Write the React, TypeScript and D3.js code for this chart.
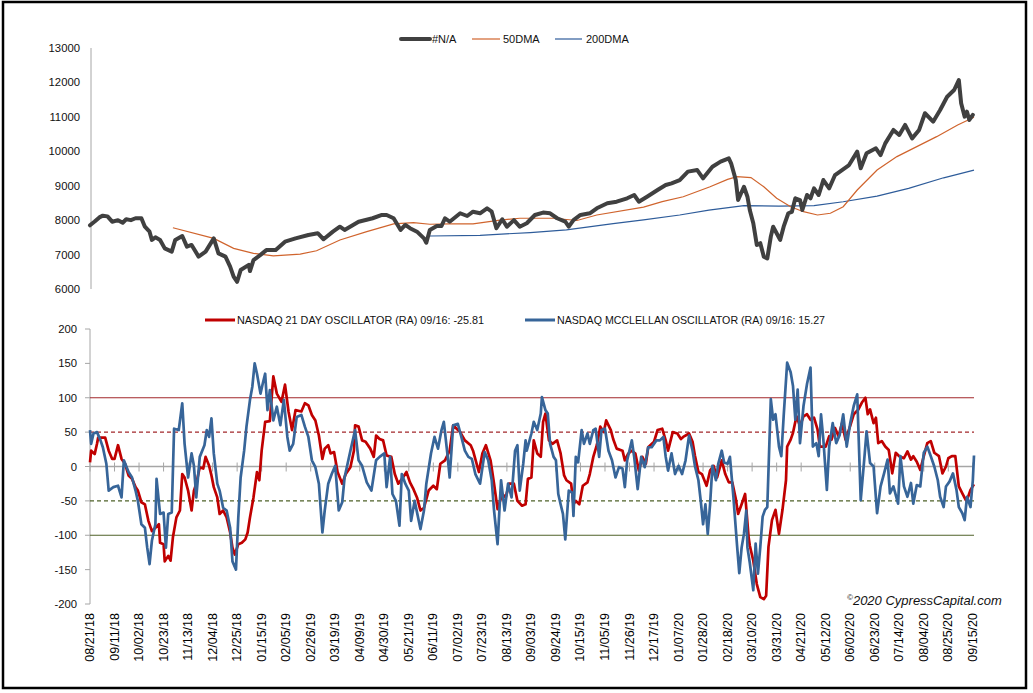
import React from "react";
import * as d3 from "d3";

const startDate = new Date(2018, 7, 21);
const endDate = new Date(2020, 8, 16);

const xTickLabels = [
  "08/21/18", "09/11/18", "10/02/18", "10/23/18", "11/13/18", "12/04/18", "12/25/18",
  "01/15/19", "02/05/19", "02/26/19", "03/19/19", "04/09/19", "04/30/19", "05/21/19",
  "06/11/19", "07/02/19", "07/23/19", "08/13/19", "09/03/19", "09/24/19", "10/15/19",
  "11/05/19", "11/26/19", "12/17/19", "01/07/20", "01/28/20", "02/18/20", "03/10/20",
  "03/31/20", "04/21/20", "05/12/20", "06/02/20", "06/23/20", "07/14/20", "08/04/20",
  "08/25/20", "09/15/20",
];
const priceTicks = [6000, 7000, 8000, 9000, 10000, 11000, 12000, 13000];
const oscTicks = [-200, -150, -100, -50, 0, 50, 100, 150, 200];
const oscLevels = [100, 50, -50, -100];

// day offsets from 08/21/18
const priceDays = [0, 4, 8, 11, 15, 19, 24, 28, 31, 35, 39, 44, 47, 51, 53, 56, 60, 64, 70, 73, 79, 83, 87, 93, 99, 106, 110, 116, 120, 123, 126, 129, 136, 137, 140, 146, 151, 159, 167, 176, 187, 195, 200, 208, 214, 218, 230, 242, 250, 254, 260, 266, 270, 274, 280, 286, 288, 291, 297, 301, 304, 308, 317, 323, 328, 334, 340, 344, 348, 353, 357, 363, 368, 374, 381, 388, 394, 400, 407, 410, 414, 420, 428, 434, 443, 451, 460, 466, 470, 477, 486, 493, 498, 505, 512, 520, 525, 533, 540, 547, 549, 553, 555, 560, 563, 565, 568, 571, 574, 577, 580, 583, 585, 588, 591, 594, 598, 601, 604, 608, 610, 614, 617, 620, 624, 628, 633, 638, 644, 650, 657, 660, 665, 673, 677, 681, 688, 693, 698, 704, 710, 715, 722, 728, 734, 740, 744, 746, 749, 751, 753, 756];
const priceValues = [7850, 7960, 8080, 8130, 8110, 7955, 8000, 7925, 8025, 8000, 8055, 8055, 7810, 7665, 7425, 7500, 7425, 7180, 7085, 7425, 7540, 7230, 7280, 6940, 7085, 7470, 7035, 6940, 6650, 6360, 6210, 6550, 6700, 6520, 6840, 6990, 7130, 7130, 7375, 7470, 7570, 7620, 7445, 7665, 7810, 7715, 7955, 8055, 8150, 8150, 8055, 7715, 7860, 7765, 7665, 7470, 7345, 7715, 7830, 7830, 8055, 7955, 8200, 8120, 8245, 8200, 8345, 8245, 7765, 8025, 7810, 8000, 7810, 7910, 8150, 8220, 8200, 8055, 7955, 7810, 8000, 8150, 8200, 8345, 8490, 8535, 8635, 8730, 8535, 8680, 8875, 9020, 9070, 9165, 9410, 9455, 9215, 9550, 9700, 9795, 9650, 9165, 8585, 8970, 8680, 8295, 7910, 7280, 7330, 6940, 6890, 7520, 7810, 7620, 7425, 7810, 8200, 8240, 8635, 8585, 8295, 8730, 8635, 8925, 8730, 9165, 8925, 9310, 9455, 9600, 9990, 9505, 9940, 10085, 9890, 10230, 10620, 10475, 10765, 10375, 10620, 11105, 10860, 11200, 11585, 11780, 12070, 11395, 11005, 11150, 10910, 11055];

const dma50Days = [71, 106, 123, 140, 157, 180, 194, 214, 237, 260, 277, 291, 308, 328, 351, 368, 397, 417, 434, 474, 490, 508, 531, 546, 554, 566, 577, 588, 600, 611, 623, 634, 645, 657, 674, 691, 708, 725, 743, 757];
const dma50Values = [7780, 7470, 7180, 7035, 6960, 7015, 7110, 7425, 7665, 7890, 7925, 7880, 7890, 7890, 8000, 8055, 8055, 7990, 8150, 8380, 8540, 8680, 8970, 9185, 9265, 9235, 8970, 8635, 8390, 8245, 8150, 8200, 8390, 8875, 9455, 9845, 10135, 10425, 10765, 10990];

const dma200Days = [291, 334, 377, 408, 448, 474, 505, 530, 560, 590, 620, 645, 674, 701, 731, 757];
const dma200Values = [7540, 7560, 7640, 7720, 7900, 8010, 8150, 8290, 8420, 8410, 8420, 8535, 8700, 8925, 9230, 9455];

const osc21Days = [0, 1, 4, 6, 7, 13, 16, 19, 21, 24, 27, 30, 33, 36, 39, 41, 44, 47, 50, 53, 56, 59, 60, 63, 64, 67, 69, 71, 74, 77, 79, 81, 84, 87, 89, 91, 94, 97, 99, 102, 104, 106, 109, 111, 114, 117, 120, 122, 124, 127, 130, 133, 135, 137, 140, 143, 145, 147, 150, 154, 157, 160, 164, 167, 170, 173, 176, 181, 184, 187, 190, 193, 196, 199, 201, 204, 206, 209, 212, 216, 219, 223, 226, 227, 230, 233, 236, 240, 243, 245, 248, 251, 254, 258, 261, 264, 268, 271, 274, 277, 280, 283, 286, 290, 294, 297, 300, 304, 308, 311, 314, 317, 321, 326, 328, 333, 336, 339, 343, 346, 349, 353, 356, 359, 363, 366, 370, 373, 375, 378, 380, 383, 386, 388, 390, 393, 396, 400, 403, 406, 408, 412, 414, 416, 419, 422, 426, 428, 431, 434, 437, 440, 442, 446, 448, 451, 456, 458, 461, 464, 467, 470, 473, 476, 478, 483, 486, 490, 493, 495, 499, 503, 506, 508, 513, 516, 518, 521, 524, 528, 531, 534, 537, 541, 544, 547, 550, 553, 555, 558, 561, 564, 565, 568, 571, 574, 577, 579, 581, 584, 587, 590, 593, 596, 597, 600, 602, 605, 608, 611, 614, 617, 620, 623, 625, 630, 633, 635, 638, 641, 644, 647, 651, 654, 658, 661, 664, 666, 668, 671, 673, 675, 678, 681, 684, 687, 690, 693, 697, 700, 703, 705, 708, 711, 714, 717, 720, 723, 727, 730, 733, 735, 738, 741, 744, 747, 750, 752, 754, 757];
const osc21Values = [6, 23, 18, 33, 42, 42, 23, 11, 11, 31, 11, 4, -13, -18, -30, -35, -52, -55, -79, -94, -89, -84, -111, -113, -138, -130, -137, -103, -74, -64, -11, -16, -35, -64, -35, -25, -1, -3, 14, 1, -13, -30, -45, -69, -64, -74, -96, -118, -128, -113, -111, -106, -96, -74, -45, -8, -20, 23, 65, 66, 131, 106, 94, 119, 80, 53, 82, 80, 92, 89, 75, 67, 45, 11, 26, 31, 19, 21, -8, -25, -11, -1, 23, 60, 58, 38, 36, 26, 14, 45, 40, 38, 16, 14, -11, -25, -16, -8, -23, -33, -45, -64, -60, -35, -28, -33, 4, 9, 23, 60, 55, 50, 38, 31, 23, -8, 19, 31, 9, -25, -62, -40, -45, -25, -25, -50, -57, -55, -18, -16, 38, 19, 14, 65, 77, 38, 33, 38, 19, -13, -20, -25, -55, -50, -55, -28, -23, -11, 14, 31, 58, 50, 67, 53, 40, 26, 23, 9, 19, 23, 19, -6, 14, 4, 28, 36, 53, 55, 38, 23, 50, 48, 40, 43, 48, 36, 16, -8, -11, -28, -6, 1, -16, 9, -11, -23, -23, -47, -69, -55, -40, -103, -115, -137, -171, -190, -193, -188, -117, -78, -63, -98, -63, -20, 29, 39, 49, 73, 59, 73, 76, 68, 71, 54, 29, 29, 44, 39, 56, 44, 63, 39, 59, 76, 83, 93, 100, 76, 83, 63, 71, 34, 37, 29, 24, -10, 20, 15, 12, 22, 10, 15, 7, -5, 15, 34, 37, 20, 15, -10, 0, 12, 15, 15, -29, -39, -49, -44, -34, -26];

const mcclDays = [0, 1, 3, 6, 9, 11, 14, 16, 20, 24, 27, 29, 33, 36, 39, 41, 44, 47, 49, 51, 53, 56, 57, 60, 63, 65, 67, 70, 72, 76, 79, 81, 84, 87, 89, 91, 94, 98, 100, 102, 104, 106, 109, 111, 114, 117, 120, 122, 125, 127, 129, 132, 134, 137, 139, 141, 143, 146, 148, 150, 152, 154, 157, 160, 163, 166, 169, 171, 174, 177, 181, 184, 187, 190, 193, 196, 199, 201, 204, 207, 210, 213, 216, 218, 223, 227, 230, 233, 237, 241, 245, 248, 252, 254, 257, 259, 262, 265, 267, 270, 273, 275, 278, 283, 286, 288, 292, 295, 298, 301, 303, 306, 308, 311, 315, 318, 321, 324, 327, 330, 334, 338, 341, 344, 346, 349, 352, 355, 358, 361, 364, 366, 368, 371, 373, 374, 378, 380, 383, 386, 387, 390, 392, 394, 397, 399, 401, 403, 405, 407, 410, 413, 414, 416, 418, 421, 423, 426, 428, 431, 433, 436, 438, 441, 444, 447, 450, 453, 456, 458, 460, 464, 466, 469, 472, 475, 478, 481, 485, 488, 491, 493, 495, 498, 501, 504, 507, 510, 513, 516, 518, 521, 523, 525, 527, 529, 531, 533, 536, 538, 541, 543, 546, 548, 551, 554, 556, 558, 560, 562, 563, 565, 568, 570, 572, 574, 576, 578, 580, 583, 585, 587, 590, 592, 594, 597, 600, 602, 604, 606, 608, 611, 614, 617, 619, 622, 624, 626, 628, 631, 633, 636, 639, 642, 645, 648, 651, 654, 657, 660, 663, 665, 668, 671, 674, 677, 680, 683, 685, 688, 692, 694, 697, 700, 703, 705, 708, 711, 714, 717, 720, 723, 726, 728, 731, 733, 736, 739, 742, 744, 747, 749, 751, 754, 756, 757];
const mcclValues = [53, 33, 48, 50, 38, 28, 4, -35, -30, -28, -45, 9, -8, -16, -35, -50, -84, -89, -118, -142, -108, -84, -18, -69, -67, -118, -69, -67, 55, 53, 92, 33, -16, 19, 1, -45, 14, 31, 53, 43, 70, 19, -25, -35, -60, -64, -89, -138, -150, -74, -16, 23, 58, 97, 116, 150, 135, 106, 121, 135, 82, 111, 67, 87, 60, 97, 43, 23, 33, 72, 75, 58, 43, 9, -1, -25, -96, -64, -25, -11, 1, -64, -52, -16, 23, 53, 9, 1, -23, -35, 9, 14, 19, -30, 14, -40, -50, -86, -11, -25, -35, -79, -50, -91, -64, -25, 19, 43, 26, 53, 65, 19, -16, 60, 62, 43, 23, 14, 11, -11, -25, 21, 9, -20, -64, -113, -20, -64, -25, -45, 23, 31, -35, 4, 38, 23, 48, 65, 53, 77, 101, 82, 77, 33, 14, 9, -40, -55, -69, -106, -35, -38, -72, 14, 6, 53, 33, 48, 33, 53, 55, 14, 53, 55, 23, 9, -16, -1, -3, -30, 9, 38, 14, -33, 14, -1, 28, 28, 38, 38, 43, 14, -6, 19, -11, 1, -11, 9, 45, 23, 1, -20, -50, -84, -55, -98, -55, 1, -20, 4, 23, 6, 4, 14, -45, -113, -155, -118, -98, -64, -118, -140, -180, -112, -156, -117, -73, -63, -59, 98, 68, 76, 29, 15, 73, 151, 137, 117, 68, 112, 34, 88, 120, 144, 29, 34, 15, 76, 39, -34, 29, 63, 34, 46, 76, 29, 63, 88, 105, -49, 10, 51, 5, 0, -68, -29, -10, 10, -39, -29, -54, 15, -29, -44, -24, -54, -27, -29, 20, 29, 15, 0, -20, -44, -59, -29, -22, -10, -34, -59, -68, -78, -44, -59, -20, 16];

const FONT = "'Liberation Sans', Arial, sans-serif";

export default function App() {
  const x = d3.scaleTime().domain([startDate, endDate]).range([90, 974]);
  const yP = d3.scaleLinear().domain([6000, 13000]).range([289, 48]);
  const yO = d3.scaleLinear().domain([-200, 200]).range([604, 329]);
  const pts = (days: number[], vals: number[]) =>
    days.map((d, i) => ({ t: d3.timeDay.offset(startDate, d), v: vals[i] }));
  const lineP = d3.line<any>().x((d) => x(d.t)).y((d) => yP(d.v));
  const lineO = d3.line<any>().x((d) => x(d.t)).y((d) => yO(d.v));
  const parse = d3.timeParse("%m/%d/%y");
  const tickDates = xTickLabels.map((s) => parse(s) as Date);

  const levelStyle = (l: number) => ({
    stroke: l > 0 ? "#A2272B" : "#4F6228",
    dash: Math.abs(l) === 50 ? "4,3" : undefined,
  });

  return (
    <svg
      width={1033}
      height={693}
      style={{ position: "absolute", left: 0, top: 0, display: "block", background: "#fff" }}
      fontFamily={FONT}
    >
      <rect x={0} y={0} width={1033} height={693} fill="#fff" />
      <rect x={3} y={2} width={1023} height={686} fill="none" stroke="#000" strokeWidth={2.5} />

      {/* Top panel */}
      <line x1={91} x2={91} y1={yP(13000)} y2={yP(6000)} stroke="#A6A6A6" strokeWidth={1} />
      {priceTicks.map((t) => (
        <text key={t} x={80} y={yP(t)} textAnchor="end" dominantBaseline="central" fontSize={11.3} fill="#111">
          {t}
        </text>
      ))}
      <path d={lineP(pts(dma200Days, dma200Values)) || ""} fill="none" stroke="#2E5C9A" strokeWidth={1.2} />
      <path d={lineP(pts(dma50Days, dma50Values)) || ""} fill="none" stroke="#D0642D" strokeWidth={1.2} />
      <path
        d={lineP(pts(priceDays, priceValues)) || ""}
        fill="none"
        stroke="#404040"
        strokeWidth={4}
        strokeLinejoin="round"
        strokeLinecap="round"
      />

      {/* Top legend */}
      <g fontSize={11} fill="#111">
        <line x1={401} x2={430} y1={39} y2={39} stroke="#404040" strokeWidth={4} strokeLinecap="round" />
        <text x={432} y={39} dominantBaseline="central">#N/A</text>
        <line x1={472} x2={500} y1={39} y2={39} stroke="#D0642D" strokeWidth={1.2} />
        <text x={503} y={39} dominantBaseline="central">50DMA</text>
        <line x1={555} x2={582} y1={39} y2={39} stroke="#2E5C9A" strokeWidth={1.2} />
        <text x={586} y={39} dominantBaseline="central">200DMA</text>
      </g>

      {/* Bottom panel */}
      <line x1={90} x2={90} y1={yO(200)} y2={yO(-200)} stroke="#A6A6A6" strokeWidth={1} />
      {oscTicks.map((t) => (
        <g key={t}>
          <line x1={85} x2={90} y1={yO(t)} y2={yO(t)} stroke="#A6A6A6" strokeWidth={1} />
          <text x={77} y={yO(t)} textAnchor="end" dominantBaseline="central" fontSize={11.3} fill="#111">
            {t}
          </text>
        </g>
      ))}
      {oscLevels.map((l) => {
        const s = levelStyle(l);
        return (
          <line
            key={l}
            x1={90}
            x2={974}
            y1={yO(l)}
            y2={yO(l)}
            stroke={s.stroke}
            strokeWidth={1.1}
            strokeDasharray={s.dash}
          />
        );
      })}
      <line x1={90} x2={974} y1={yO(0)} y2={yO(0)} stroke="#A6A6A6" strokeWidth={1.5} />
      {tickDates.map((d, i) => (
        <line key={i} x1={x(d)} x2={x(d)} y1={yO(0) - 4} y2={yO(0) + 5} stroke="#A6A6A6" strokeWidth={1} />
      ))}
      <path
        d={lineO(pts(osc21Days, osc21Values)) || ""}
        fill="none"
        stroke="#C00000"
        strokeWidth={2.7}
        strokeLinejoin="round"
      />
      <path
        d={lineO(pts(mcclDays, mcclValues)) || ""}
        fill="none"
        stroke="#376599"
        strokeWidth={2.7}
        strokeLinejoin="round"
      />

      {/* Bottom legend */}
      <g fontSize={11} fill="#111">
        <line x1={205} x2={235} y1={320} y2={320} stroke="#C00000" strokeWidth={3} />
        <text x={237} y={320} dominantBaseline="central" textLength={247} lengthAdjust="spacingAndGlyphs">
          NASDAQ 21 DAY OSCILLATOR (RA) 09/16: -25.81
        </text>
        <line x1={525} x2={555} y1={320} y2={320} stroke="#376599" strokeWidth={3} />
        <text x={557} y={320} dominantBaseline="central" textLength={268} lengthAdjust="spacingAndGlyphs">
          NASDAQ MCCLELLAN OSCILLATOR (RA) 09/16: 15.27
        </text>
      </g>

      {/* X labels */}
      {tickDates.map((d, i) => (
        <text
          key={i}
          transform={`translate(${x(d)},613) rotate(-90)`}
          textAnchor="end"
          dominantBaseline="central"
          fontSize={12.5}
          fill="#000"
        >
          {xTickLabels[i]}
        </text>
      ))}

      <text x={847} y={605} fontSize={13} fontStyle="italic" fill="#111">
        <tspan fontSize={8} dy={-5}>©</tspan>
        <tspan dy={5}>2020 CypressCapital.com</tspan>
      </text>
    </svg>
  );
}
